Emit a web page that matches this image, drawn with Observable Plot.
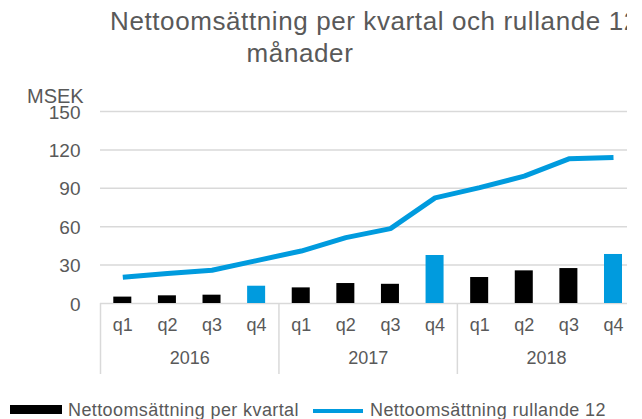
<!DOCTYPE html>
<html>
<head>
<meta charset="utf-8">
<script src="https://cdn.jsdelivr.net/npm/d3@7"></script>
<script src="https://cdn.jsdelivr.net/npm/@observablehq/plot@0.6"></script>
<style>
  body { margin: 0; background: #fff; font-family: "Liberation Sans", Arial, sans-serif; color: #595959; }
  #wrap { position: relative; width: 627px; height: 419px; overflow: hidden; background: #fff; }
  #inner { position: absolute; left: 0; top: 0; width: 642px; height: 419px; }
  #chart { position: absolute; left: 0; top: 0; }
  .t { position: absolute; white-space: nowrap; line-height: 1; color: #595959; }
  .sw { position: absolute; }
</style>
</head>
<body>
<div id="wrap"><div id="inner">
  <div id="chart"></div>
  <div class="t" style="left:110px; top:8px; font-size:26px; letter-spacing:0.6px;">Nettoomsättning per kvartal och rullande 12</div>
  <div class="t" style="left:200px; width:200px; text-align:center; top:40px; font-size:26px; letter-spacing:0.6px;">månader</div>
  <div class="t" style="left:27px; top:86px; font-size:20px;">MSEK</div>
  <div class="sw" style="left:10px; top:405px; width:52px; height:9px; background:#000;"></div>
  <div class="t" style="left:68px; top:401px; font-size:18px; letter-spacing:0.4px;">Nettoomsättning per kvartal</div>
  <div class="sw" style="left:313px; top:409px; width:50px; height:4px; background:#009BDE;"></div>
  <div class="t" style="left:370px; top:401px; font-size:18px; letter-spacing:0.4px;">Nettoomsättning rullande 12</div>
</div></div>
<script>
// ---- data ----
const years = ["2016", "2017", "2018"];
const quarters = ["q1", "q2", "q3", "q4"];
const quarterly = [5, 6, 6.5, 13.5, 12.2, 15.6, 15, 37.5, 20.3, 25.5, 27.3, 38.3];
const rolling = [20.5, 23.5, 26, 33.5, 41, 51.5, 58.5, 82.5, 90.5, 99.5, 113, 114];
const yTicks = [0, 30, 60, 90, 120, 150];

// ---- table ----
const data = [];
years.forEach((yr, yi) => quarters.forEach((q, qi) => {
  const i = yi * quarters.length + qi;
  data.push({key: yr + "-" + q, year: yr, q, quarterly: quarterly[i], rolling: rolling[i]});
}));
const keys = data.map(d => d.key);

const W = 642, H = 419, ML = 100, MR = 6.7, MT = 111, MB = 116;
const step = (W - ML - MR) / keys.length;
const blue = "#009BDE", black = "#000000", grid = "#d9d9d9", txt = "#595959";
const barInset = 13.3;

const chart = Plot.plot({
  width: W, height: H,
  marginLeft: ML, marginRight: MR, marginTop: MT, marginBottom: MB,
  style: {fontFamily: "'Liberation Sans', Arial, sans-serif", fontSize: "18px", background: "transparent", overflow: "visible"},
  x: {type: "band", domain: keys, padding: 0, round: false, axis: null},
  y: {domain: [0, 150], axis: null},
  marks: [
    Plot.ruleY(yTicks, {stroke: grid, strokeWidth: 1.5}),
    Plot.ruleX(years, {x: yr => yr + "-q1", y1: 0, y2: 0, dx: -step / 2, insetBottom: -71, stroke: grid, strokeWidth: 1.5}),
    Plot.text(yTicks, {y: d => d, text: d => String(d), frameAnchor: "left", textAnchor: "end", dx: -20, dy: 1, fontSize: 19, fill: txt}),
    Plot.barY(data, {filter: d => d.q !== "q4", x: "key", y: "quarterly", fill: black, insetLeft: barInset, insetRight: barInset}),
    Plot.barY(data, {filter: d => d.q === "q4", x: "key", y: "quarterly", fill: blue, insetLeft: barInset, insetRight: barInset}),
    Plot.lineY(data, {x: "key", y: "rolling", stroke: blue, strokeWidth: 5, strokeLinecap: "butt", strokeLinejoin: "miter"}),
    Plot.text(data, {x: "key", text: "q", frameAnchor: "bottom", dy: 27, fontSize: 18, fill: txt}),
    Plot.text(years, {x: yr => yr + "-q2", text: yr => yr, frameAnchor: "bottom", dx: step / 2, dy: 60, fontSize: 18, fill: txt})
  ]
});
document.getElementById("chart").appendChild(chart);
</script>
</body>
</html>
